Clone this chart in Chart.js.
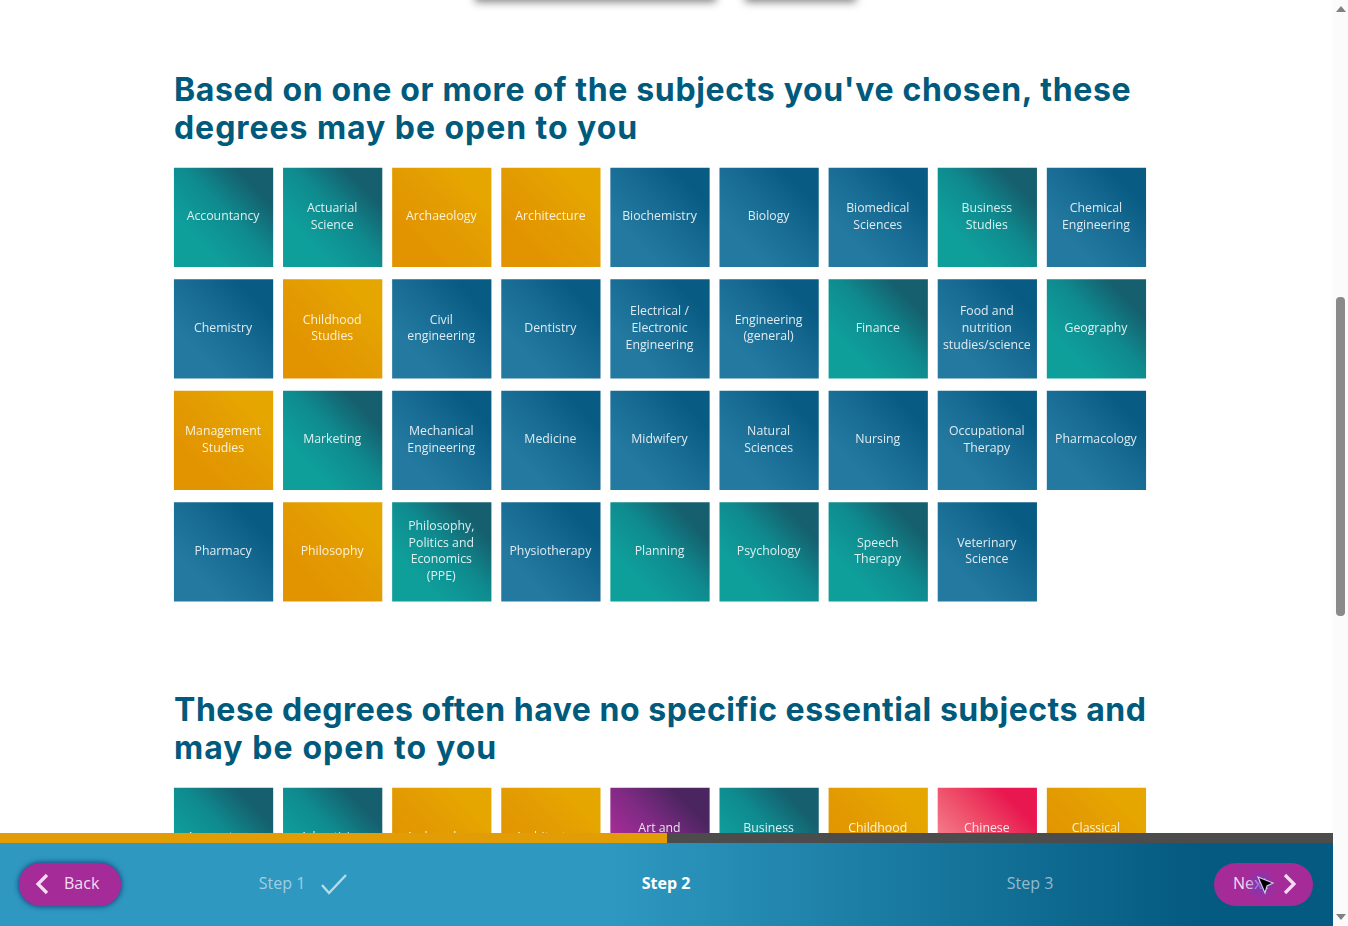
<!DOCTYPE html>
<html><head><meta charset="utf-8">
<script src="https://cdn.jsdelivr.net/npm/chart.js@4"></script>
<style>
html,body{margin:0;padding:0;width:1348px;height:926px;overflow:hidden;background:#fff;font-family:"Open Sans",sans-serif}
.abs{position:absolute}
canvas{position:absolute;display:block}
h2{position:absolute;left:174px;margin:0;font:700 32px/38px Inter,sans-serif;color:#005a7c;white-space:nowrap}
.shadow{position:absolute;top:-20px;height:20px;box-shadow:0 0 9px 2px rgba(0,0,0,.5);background:#fff}
#prog{left:0;top:833px;width:1333px;height:10px;background:#4c4c4c;z-index:5}
#prog div{width:667px;height:10px;background:#e29c06}
#bar{left:0;top:843px;width:1333px;height:83px;z-index:5;background:linear-gradient(90deg,#2e98c0 0,#2e98c0 46%,#045a80 90%,#045a80 100%)}
.btn{position:absolute;top:20px;height:43px;border-radius:22px;background:#a52c98;color:#f6dcf2;font-size:16px;line-height:41px}
.step{position:absolute;top:0;line-height:81px;font-size:16px;color:rgba(255,255,255,.55);white-space:nowrap;transform:translateX(-50%)}
#sb{left:1333px;top:0;width:15px;height:926px;background:#fbfbfb;z-index:6}
</style></head><body>
<div class="shadow" style="left:477px;width:237px"></div>
<div class="shadow" style="left:747px;width:107px"></div>
<h2 style="top:71px"><span style="letter-spacing:.65px">Based on one or more of the subjects you've chosen, these</span><br><span style="letter-spacing:.95px">degrees may be open to you</span></h2>
<h2 style="top:691px"><span style="letter-spacing:.52px">These degrees often have no specific essential subjects and</span><br><span style="letter-spacing:1.07px">may be open to you</span></h2>
<canvas id="c1" width="982" height="446" style="left:169px;top:162px;width:982px;height:446px"></canvas>
<canvas id="c2" width="982" height="112" style="left:169px;top:782px;width:982px;height:112px"></canvas>
<div id="prog" class="abs"><div></div></div>
<div id="bar" class="abs">
  <div class="btn" style="left:19px;width:102px;box-shadow:0 0 5px 1px rgba(20,40,110,.7)">
    <svg class="abs" style="left:15px;top:9px" width="16" height="24"><path d="M13 3L4 12L13 21" fill="none" stroke="#f6dcf2" stroke-width="3.2"/></svg>
    <span class="abs" style="left:45px">Back</span></div>
  <div class="step" style="left:282px">Step 1</div>
  <svg class="abs" style="left:319px;top:29px" width="30" height="24"><path d="M3 13L10 21L27 3" fill="none" stroke="rgba(255,255,255,.65)" stroke-width="2.4"/></svg>
  <div class="step" style="left:666px;font-weight:700;color:#fff">Step 2</div>
  <div class="step" style="left:1030px">Step 3</div>
  <div class="btn" style="left:1214px;width:99px">
    <span class="abs" style="left:19px">Next</span>
    <svg class="abs" style="left:68px;top:9px" width="16" height="24"><path d="M3 3L12 12L3 21" fill="none" stroke="#f6dcf2" stroke-width="3.2"/></svg>
    <div class="abs" style="left:30px;top:6px;width:34px;height:32px;border-radius:50%;background:radial-gradient(circle,rgba(110,60,190,.8) 0,rgba(165,44,152,0) 70%)"></div>
    <svg class="abs" style="left:42px;top:12px" width="20" height="21"><path d="M2 2L17 8L11 11L9 18Z" fill="#000" stroke="#d9c8ea" stroke-width="1.2"/></svg>
  </div>
</div>
<div id="sb" class="abs">
  <svg class="abs" style="left:0;top:0" width="15" height="926">
    <path d="M3 12L8 6L13 12Z" fill="#808080"/><path d="M3 914L8 920L13 914Z" fill="#808080"/>
    <rect x="3" y="297" width="9" height="319" rx="4" fill="#8a8a8a"/>
  </svg>
</div>
<script>
const columns = ['1','2','3','4','5','6','7','8','9'];
const row1 = ['Accountancy','Actuarial\nScience','Archaeology','Architecture','Biochemistry','Biology','Biomedical\nSciences','Business\nStudies','Chemical\nEngineering'];
const row2 = ['Chemistry','Childhood\nStudies','Civil\nengineering','Dentistry','Electrical /\nElectronic\nEngineering','Engineering\n(general)','Finance','Food and\nnutrition\nstudies/science','Geography'];
const row3 = ['Management\nStudies','Marketing','Mechanical\nEngineering','Medicine','Midwifery','Natural\nSciences','Nursing','Occupational\nTherapy','Pharmacology'];
const row4 = ['Pharmacy','Philosophy','Philosophy,\nPolitics and\nEconomics\n(PPE)','Physiotherapy','Planning','Psychology','Speech\nTherapy','Veterinary\nScience'];
const row5 = ['Accountancy','Advertising','Archaeology','Architecture','Art and\n ','Business\n ','Childhood\n ','Chinese\n ','Classical\n '];
const kinds1 = ['teal','teal','amber','amber','blue','blue','blue','teal','blue'];
const kinds2 = ['blue','amber','blue','blue','blue','blue','teal','blue','teal'];
const kinds3 = ['amber','teal','blue','blue','blue','blue','blue','blue','blue'];
const kinds4 = ['blue','amber','teal','blue','teal','teal','teal','blue'];
const kinds5 = ['teal','teal','amber','amber','purple','teal','amber','red','amber'];
const palette = {
  teal:  ['#155f6e','#0f8a8e','#0f9f9b'],
  blue:  ['#085c84','#186c94','#2379a0'],
  amber: ['#e6a600','#e39c02','#e29400'],
  purple:['#4b2560','#7d2a82','#a82c98'],
  red:   ['#e8174f','#ee4a68','#f47d8b']
};
const cellGap = 0.054, cellSize = 0.884;

function tileFill(ctx, kinds){
  const ch = ctx.chart, a = ch.chartArea;
  const c = palette[kinds[ctx.dataIndex]];
  if(!a || !ch.scales.x) return c[1];
  const s = 99, cx = ch.scales.x.getPixelForValue(ctx.dataIndex);
  const top = ch.scales.y.getPixelForValue(ctx.dataset.rowIndex + cellGap);
  const left = cx - s/2;
  const g = ch.ctx.createLinearGradient(left+s*0.84,top+s*0.22,left+s*0.24,top+s*0.8);
  g.addColorStop(0,c[0]); g.addColorStop(0.45,c[1]); g.addColorStop(0.95,c[2]);
  return g;
}
const tileLabels = {
  id:'tileLabels',
  afterDatasetsDraw(ch){
    const x = ch.ctx;
    x.save();
    x.font = '12.3px "Open Sans"';
    x.fillStyle = 'rgba(255,255,255,.86)';
    x.textAlign = 'center'; x.textBaseline = 'middle';
    ch.data.datasets.forEach((d,di)=>{
      ch.getDatasetMeta(di).data.forEach((el,i)=>{
        const lines = d.names[i].split('\n');
        const cy = (el.y + el.base)/2;
        lines.forEach((t,k)=>x.fillText(t, el.x-0.5, cy - 0.4 + (k-(lines.length-1)/2)*16.6));
      });
    });
    x.restore();
  }
};
function gridChart(id, rows, kindsByRow){
  return new Chart(document.getElementById(id),{
    type:'bar',
    data:{labels:columns,datasets:rows.map((names,r)=>({
      names, rowIndex:r,
      data:names.map(()=>[r+cellGap,r+cellGap+cellSize]),
      backgroundColor:(ctx)=>tileFill(ctx,kindsByRow[r]),
      borderWidth:0,borderSkipped:false,
      barThickness:98.6,grouped:false
    }))},
    options:{
      responsive:false,animation:false,devicePixelRatio:1,
      layout:{padding:0},
      plugins:{legend:{display:false},tooltip:{enabled:false}},
      scales:{
        x:{display:false,grid:{display:false}},
        y:{display:false,reverse:true,min:0,max:rows.length,grid:{display:false}}
      }
    },
    plugins:[tileLabels]
  });
}
gridChart('c1',[row1,row2,row3,row4],[kinds1,kinds2,kinds3,kinds4]);
gridChart('c2',[row5],[kinds5]);
</script>
</body></html>
